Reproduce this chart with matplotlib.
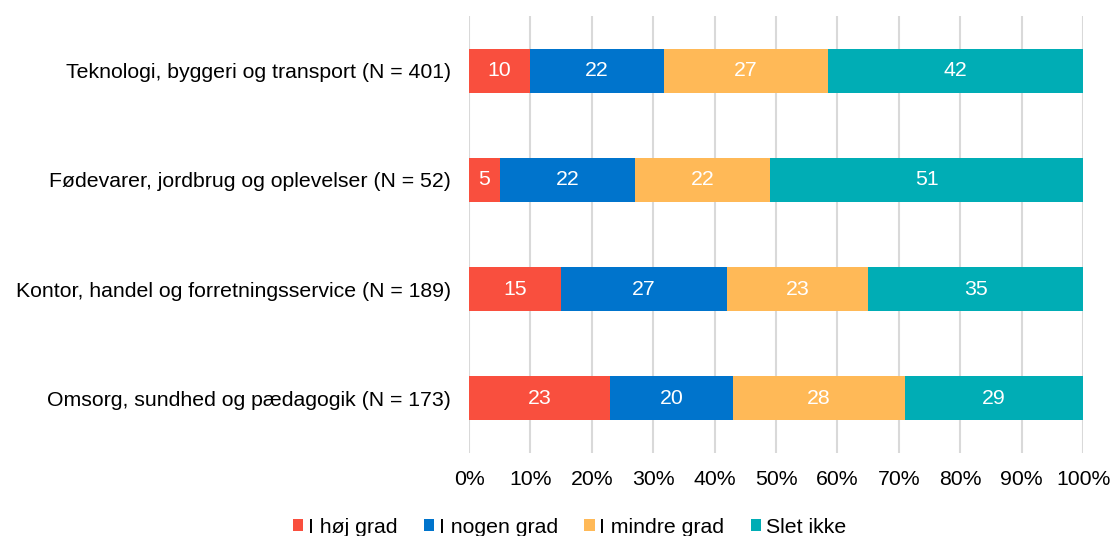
import matplotlib.pyplot as plt
import numpy as np

plt.rcParams['font.family'] = ['Liberation Sans', 'DejaVu Sans']

categories = [
    "Teknologi, byggeri og transport (N = 401)",
    "Fødevarer, jordbrug og oplevelser (N = 52)",
    "Kontor, handel og forretningsservice (N = 189)",
    "Omsorg, sundhed og pædagogik (N = 173)",
]
series = ["I høj grad", "I nogen grad", "I mindre grad", "Slet ikke"]
hoj = [10, 5, 15, 23]
nogen = [22, 22, 27, 20]
mindre = [27, 22, 23, 28]
slet = [42, 51, 35, 29]
colors = ["#F94F3E", "#0074CC", "#FFB957", "#00ADB5"]

values = np.array([hoj, nogen, mindre, slet], dtype=float)
totals = values.sum(axis=0)
shares = values / totals * 100

fs = 15.3

fig = plt.figure(figsize=(11.12, 5.36), dpi=100)
ax = fig.add_axes([0.4218, 0.155, 0.5522, 0.815])

y = np.arange(len(categories))
left = np.zeros(len(categories))
for i, name in enumerate(series):
    bars = ax.barh(y, shares[i], left=left, height=0.405, color=colors[i],
                   label=name, zorder=3)
    for j, b in enumerate(bars):
        ax.text(left[j] + shares[i][j] / 2, y[j], str(int(values[i][j])),
                ha='center', va='center', color='white', fontsize=fs, zorder=4)
    left += shares[i]

ax.set_ylim(len(categories) - 0.5, -0.5)
ax.set_xlim(0, 100)
ax.set_yticks(y)
ax.set_yticklabels(categories, fontsize=fs)
ax.set_xticks(np.arange(0, 101, 10))
ax.set_xticklabels([f"{v}%" for v in range(0, 101, 10)], fontsize=fs)
ax.tick_params(axis='both', length=0)
ax.tick_params(axis='x', pad=12)
ax.tick_params(axis='y', pad=13)
ax.grid(axis='x', color='#D9D9D9', linewidth=1.5, zorder=0)
for s in ax.spines.values():
    s.set_visible(False)

fig.legend(loc='center', bbox_to_anchor=(0.512, 0.016), ncol=4, frameon=False,
           fontsize=fs, handlelength=0.5, handleheight=0.5, handletextpad=0.2,
           columnspacing=1.25)

fig.savefig("out.png", dpi=100)
